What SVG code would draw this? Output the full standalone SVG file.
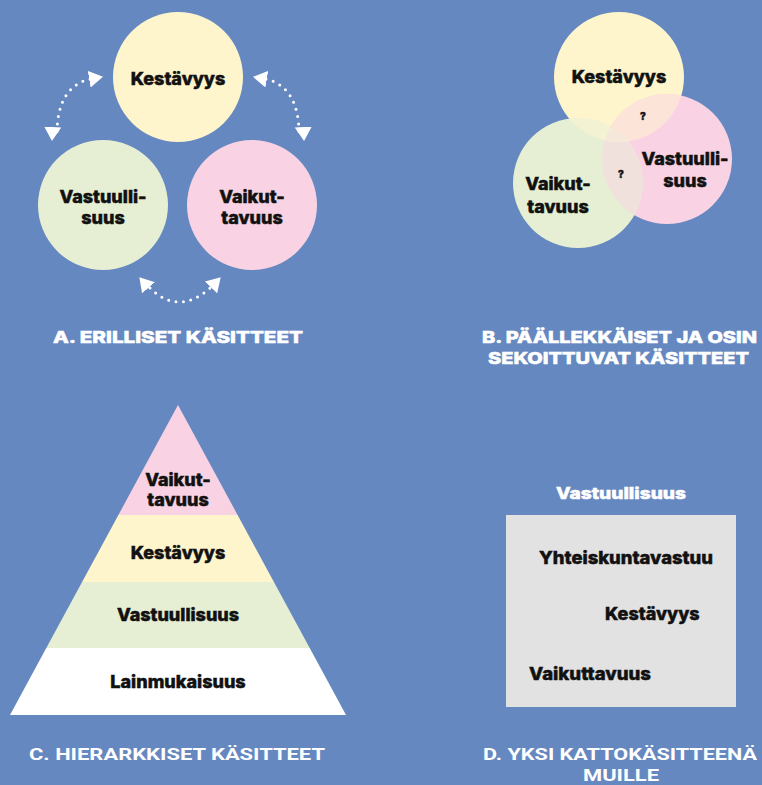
<svg xmlns="http://www.w3.org/2000/svg" width="762" height="785" viewBox="0 0 762 785">
<style>
.t{font-family:Inter,"Liberation Sans",sans-serif;font-weight:800;fill:#111;stroke:#111;stroke-width:0.5;text-anchor:middle}
.n{font-size:18px}
.q{font-size:10px}
.lbl{font-family:Inter,"Liberation Sans",sans-serif;font-weight:800;fill:#fff;stroke:#fff;stroke-width:0.5;font-size:16px}
.cd{font-family:Roboto,"Liberation Sans",sans-serif;font-weight:700;fill:#fff;font-size:17px}
.y{fill:#FFF5CC}.p{fill:#F9D3E3}.g{fill:#E6EFD4}
.dot{fill:none;stroke:#fff;stroke-width:3;stroke-linecap:round;stroke-dasharray:0 7.5}
</style>
<defs>
<marker id="ah" markerUnits="userSpaceOnUse" markerWidth="15" markerHeight="18" refX="13" refY="8.5" orient="auto-start-reverse" viewBox="0 0 15 17">
<path d="M0,0 L14,8.5 L0,17 z" fill="#fff"/>
</marker>
<clipPath id="cY"><circle cx="619" cy="77" r="65"/></clipPath>
<clipPath id="cP"><circle cx="667" cy="159" r="65"/></clipPath>
</defs>
<rect width="762" height="785" fill="#6688C1"/>

<!-- A -->
<g id="a-kestavyys"><circle class="y" cx="178" cy="77" r="65"/><text class="t n" x="178" y="85">Kestävyys</text></g>
<g id="a-vastuullisuus"><circle class="g" cx="103" cy="205" r="65"/><text class="t n" x="103" y="203">Vastuulli-</text><text class="t n" x="103" y="224">suus</text></g>
<g id="a-vaikuttavuus"><circle class="p" cx="252" cy="205" r="65"/><text class="t n" x="252" y="203">Vaikut-</text><text class="t n" x="252" y="224">tavuus</text></g>
<g id="connectors">
<path class="dot" d="M90 79 Q57 87 57 134"/>
<path class="dot" d="M266 79 Q299 87 299 134"/>
<path class="dot" d="M150 288 Q178 316 210 288"/>
<path d="M102 77 Q55 85 52 140" fill="none" stroke="none" marker-start="url(#ah)" marker-end="url(#ah)"/>
<path d="M254 77 Q301 85 304 140" fill="none" stroke="none" marker-start="url(#ah)" marker-end="url(#ah)"/>
<path d="M140 278 Q178 322 220 278" fill="none" stroke="none" marker-start="url(#ah)" marker-end="url(#ah)"/>
</g>
<text class="lbl" x="53" y="343" textLength="250" lengthAdjust="spacingAndGlyphs">A. ERILLISET KÄSITTEET</text>

<!-- B -->
<g id="b-circles">
<circle class="y" cx="619" cy="77" r="65"/>
<circle class="p" cx="667" cy="159" r="65"/>
<circle class="g" cx="578" cy="183" r="65"/>
<circle cx="667" cy="159" r="65" fill="#FCE4D8" clip-path="url(#cY)"/>
<circle cx="578" cy="183" r="65" fill="#F0E1DC" clip-path="url(#cP)"/>
<circle cx="578" cy="183" r="65" fill="#F3F2D2" clip-path="url(#cY)"/>
<g clip-path="url(#cY)"><circle cx="578" cy="183" r="65" fill="#F5E8DA" clip-path="url(#cP)"/></g>
</g>
<g id="b-kestavyys"><text class="t n" x="619" y="83">Kestävyys</text></g>
<g id="b-vastuullisuus"><text class="t n" x="685" y="165">Vastuulli-</text><text class="t n" x="685" y="187">suus</text></g>
<g id="b-vaikuttavuus"><text class="t n" x="558" y="190">Vaikut-</text><text class="t n" x="558" y="213">tavuus</text></g>
<text class="t q" x="643" y="120">?</text>
<text class="t q" x="621" y="178">?</text>
<text class="lbl" x="482" y="343" textLength="275" lengthAdjust="spacingAndGlyphs">B. PÄÄLLEKKÄISET JA OSIN</text>
<text class="lbl" x="488" y="364" textLength="261" lengthAdjust="spacingAndGlyphs">SEKOITTUVAT KÄSITTEET</text>

<!-- C -->
<g id="c-vaikuttavuus"><polygon class="p" points="178,405 237.6,515 118.4,515"/><text class="t n" x="178" y="486">Vaikut-</text><text class="t n" x="178" y="506">tavuus</text></g>
<g id="c-kestavyys"><polygon class="y" points="118.4,515 237.6,515 273.9,582 82.1,582"/><text class="t n" x="178" y="559">Kestävyys</text></g>
<g id="c-vastuullisuus"><polygon class="g" points="82.1,582 273.9,582 309.7,648 46.3,648"/><text class="t n" x="178" y="621">Vastuullisuus</text></g>
<g id="c-lainmukaisuus"><polygon fill="#fff" points="46.3,648 309.7,648 346,715 10,715"/><text class="t n" x="178" y="688">Lainmukaisuus</text></g>
<text class="cd" x="29" y="760" textLength="296" lengthAdjust="spacingAndGlyphs">C. HIERARKKISET KÄSITTEET</text>

<!-- D -->
<g id="d-vastuullisuus">
<text class="lbl" x="556" y="499" textLength="130" lengthAdjust="spacingAndGlyphs">Vastuullisuus</text>
<rect x="506" y="515" width="230" height="192" fill="#E2E2E2"/>
</g>
<g id="d-yhteiskuntavastuu"><text class="t n" x="539" y="564" style="text-anchor:start" textLength="174" lengthAdjust="spacingAndGlyphs">Yhteiskuntavastuu</text></g>
<g id="d-kestavyys"><text class="t n" x="605" y="620" style="text-anchor:start">Kestävyys</text></g>
<g id="d-vaikuttavuus"><text class="t n" x="529" y="680" style="text-anchor:start" textLength="122" lengthAdjust="spacingAndGlyphs">Vaikuttavuus</text></g>
<text class="cd" x="483" y="760" textLength="274" lengthAdjust="spacingAndGlyphs">D. YKSI KATTOKÄSITTEENÄ</text>
<text class="cd" x="583" y="781" textLength="76" lengthAdjust="spacingAndGlyphs">MUILLE</text>
</svg>
